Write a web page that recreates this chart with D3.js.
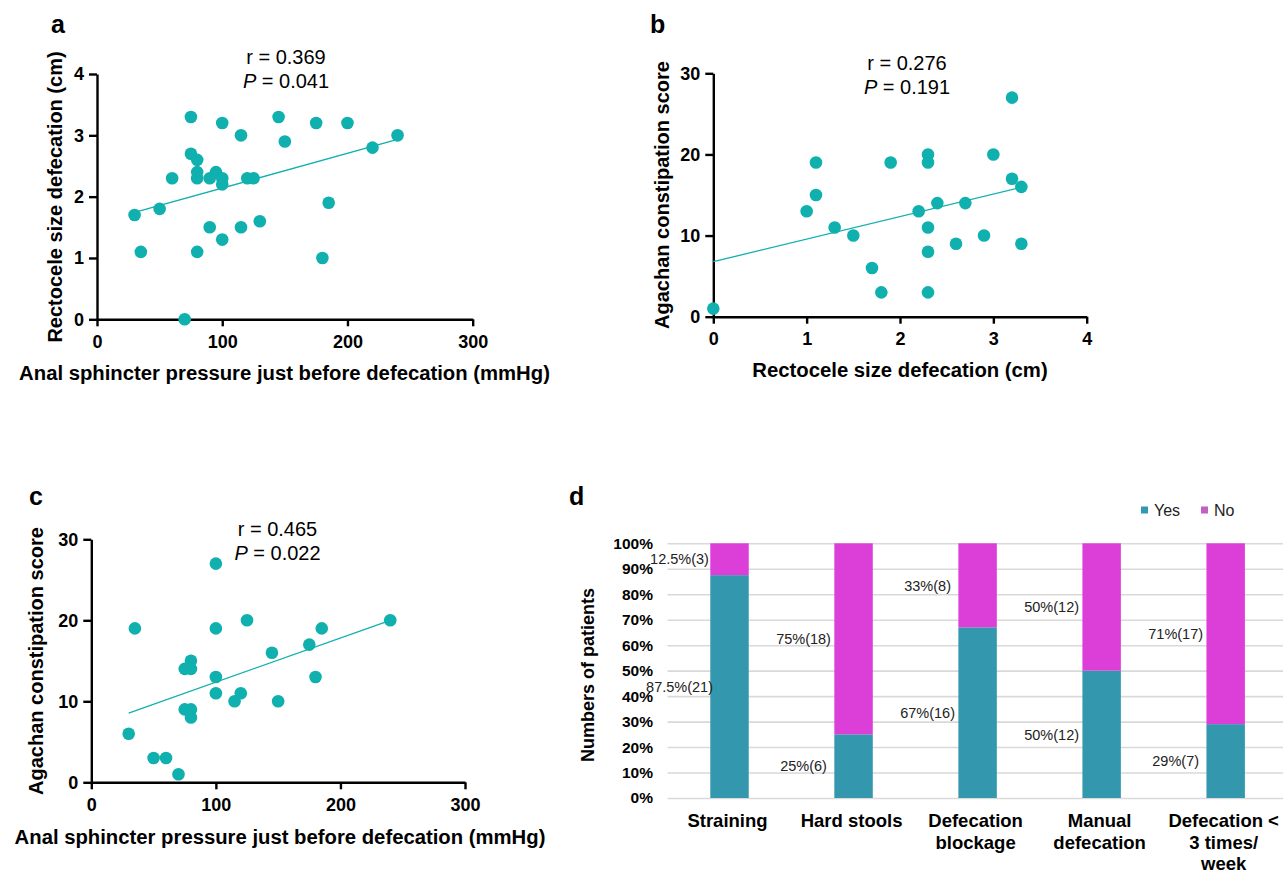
<!DOCTYPE html>
<html>
<head>
<meta charset="utf-8">
<script src="https://cdn.jsdelivr.net/npm/d3@7"></script>
<style>
  body { margin: 0; background: #fff; }
  svg { display: block; font-family: "Liberation Sans", Arial, sans-serif; }
</style>
</head>
<body>
<div class="canvas"></div>
<script>
// panel a: anal sphincter pressure (mmHg) vs rectocele size (cm)
const aPressure = [75, 100, 145, 175, 200, 115, 150, 240, 220, 75, 80, 80, 80, 60, 90, 95,
    100, 100, 120, 125, 50, 30, 185, 130, 90, 115, 100, 35, 80, 180, 70];
const aRectocele = [3.3, 3.2, 3.3, 3.2, 3.2, 3.0, 2.9, 3.0, 2.8, 2.7, 2.6, 2.4, 2.3, 2.3, 2.3, 2.4,
    2.3, 2.2, 2.3, 2.3, 1.8, 1.7, 1.9, 1.6, 1.5, 1.5, 1.3, 1.1, 1.1, 1.0, 0];
const aFit = [1.574, 0.00566];   // intercept, slope
const aStats = ['0.369', '0.041'];

// panel b: rectocele size (cm) vs Agachan score
const bRectocele = [3.2, 1.1, 1.9, 2.3, 2.3, 3.0, 3.2, 3.3, 1.1, 1.0, 2.2, 2.4, 2.7, 1.3, 1.5, 2.3,
    2.9, 2.6, 3.3, 2.3, 1.7, 1.8, 2.3, 0];
const bScore = [27, 19, 19, 20, 19, 20, 17, 16, 15, 13, 13, 14, 14, 11, 10, 11,
    10, 9, 9, 8, 6, 3, 3, 1];
const bFit = [6.78, 2.78];
const bStats = ['0.276', '0.191'];

// panel c: anal sphincter pressure (mmHg) vs Agachan score
const cPressure = [100, 35, 100, 125, 185, 240, 175, 145, 80, 75, 80, 100, 180, 100, 120, 115,
    150, 75, 80, 80, 30, 50, 60, 70];
const cScore = [27, 19, 19, 20, 19, 20, 17, 16, 15, 14, 14, 13, 13, 11, 11, 10,
    10, 9, 9, 8, 6, 3, 3, 1];
const cFit = [6.9, 0.0546];
const cStats = ['0.465', '0.022'];

// panel d: symptoms
const symptoms = ['Straining', 'Hard stools', 'Defecation blockage', 'Manual defecation', 'Defecation < 3 times/ week'];
const symptomLines = [['Straining'], ['Hard stools'], ['Defecation', 'blockage'], ['Manual', 'defecation'], ['Defecation <', '3 times/', 'week']];
const yesPct = [87.5, 25, 67, 50, 29];
const noPct = [12.5, 75, 33, 50, 71];
const yesN = [21, 6, 16, 12, 7];
const noN = [3, 18, 8, 12, 17];
const pctTicks = [0, 10, 20, 30, 40, 50, 60, 70, 80, 90, 100];

const dotColor = '#0fb0ae';
const yesColor = '#3398ad';
const noColor = '#dc3fd8';

const svg = d3.select('.canvas')
    .append('svg')
    .attr('width', 1283)
    .attr('height', 873);

function scatter(o) {
    const x = d3.scaleLinear().domain(o.xDomain).range(o.xRange);
    const y = d3.scaleLinear().domain(o.yDomain).range(o.yRange);
    const g = svg.append('g');

    const xAxis = d3.axisBottom(x).tickValues(o.xTicks).tickFormat(d3.format('d'))
        .tickSize(7).tickSizeOuter(0).tickPadding(9);
    const yAxis = d3.axisLeft(y).tickValues(o.yTicks).tickFormat(d3.format('d'))
        .tickSize(8).tickSizeOuter(0).tickPadding(5);

    const xg = g.append('g').attr('transform', `translate(0,${o.yRange[0]})`).call(xAxis);
    const yg = g.append('g').attr('transform', `translate(${o.xRange[0]},0)`).call(yAxis);
    [xg, yg].forEach(ax => {
        ax.selectAll('path, line').attr('stroke', '#000').attr('stroke-width', 2.4);
        ax.selectAll('text').attr('fill', '#000').style('font-size', '18px').style('font-weight', 'bold');
    });

    // fitted line over the data range
    const ext = d3.extent(o.xs);
    g.append('line')
        .attr('x1', x(ext[0])).attr('y1', y(o.fit[0] + o.fit[1] * ext[0]))
        .attr('x2', x(ext[1])).attr('y2', y(o.fit[0] + o.fit[1] * ext[1]))
        .attr('stroke', dotColor).attr('stroke-width', 1.3);

    g.selectAll('circle')
        .data(o.xs.map((v, i) => [v, o.ys[i]]))
        .enter()
        .append('circle')
        .attr('cx', d => x(d[0]))
        .attr('cy', d => y(d[1]))
        .attr('r', 6.3)
        .attr('fill', dotColor);

    const ann = g.append('text').attr('text-anchor', 'middle').style('font-size', '20px');
    ann.append('tspan').attr('x', o.ann[0]).attr('y', o.ann[1]).text('r = ' + o.stats[0]);
    const p = ann.append('tspan').attr('x', o.ann[0]).attr('y', o.ann[1] + 23.5);
    p.append('tspan').style('font-style', 'italic').text('P');
    p.append('tspan').text(' = ' + o.stats[1]);

    g.append('text')
        .attr('x', o.xTitle[0]).attr('y', o.xTitle[1])
        .attr('text-anchor', 'middle')
        .style('font-size', '20.3px').style('font-weight', 'bold')
        .text(o.xLabel);
    g.append('text')
        .attr('transform', `translate(${o.yTitle[0]},${o.yTitle[1]}) rotate(-90)`)
        .attr('text-anchor', 'middle')
        .style('font-size', '20px').style('font-weight', 'bold')
        .text(o.yLabel);
    g.append('text')
        .attr('x', o.letter[0]).attr('y', o.letter[1])
        .style('font-size', '25px').style('font-weight', 'bold')
        .text(o.letter[2]);
}

scatter({
    xs: aPressure, ys: aRectocele, fit: aFit, stats: aStats,
    xDomain: [0, 300], yDomain: [0, 4], xRange: [97, 472.7], yRange: [319.3, 74],
    xTicks: [0, 100, 200, 300], yTicks: [0, 1, 2, 3, 4],
    ann: [286, 64],
    xLabel: 'Anal sphincter pressure just before defecation (mmHg)', xTitle: [284.5, 380],
    yLabel: 'Rectocele size defecation (cm)', yTitle: [62, 197],
    letter: [51, 33, 'a']
});

scatter({
    xs: bRectocele, ys: bScore, fit: bFit, stats: bStats,
    xDomain: [0, 4], yDomain: [0, 30], xRange: [713.3, 1086.7], yRange: [316.7, 73.3],
    xTicks: [0, 1, 2, 3, 4], yTicks: [0, 10, 20, 30],
    ann: [907, 70],
    xLabel: 'Rectocele size defecation (cm)', xTitle: [900, 377],
    yLabel: 'Agachan constipation score', yTitle: [669, 195],
    letter: [650, 33, 'b']
});

scatter({
    xs: cPressure, ys: cScore, fit: cFit, stats: cStats,
    xDomain: [0, 300], yDomain: [0, 30], xRange: [91.3, 465], yRange: [782.3, 539.3],
    xTicks: [0, 100, 200, 300], yTicks: [0, 10, 20, 30],
    ann: [277.5, 536],
    xLabel: 'Anal sphincter pressure just before defecation (mmHg)', xTitle: [280, 844],
    yLabel: 'Agachan constipation score', yTitle: [43, 661],
    letter: [29, 505, 'c']
});

// ---- panel d: stacked percent bars ----
(() => {
    const x = d3.scaleBand()
        .domain(symptoms)
        .range([667.5, 1287.7])
        .paddingInner(0.69)
        .paddingOuter(0.345);
    const y = d3.scaleLinear().domain([0, 100]).range([798, 543.3]);
    const g = svg.append('g');

    const yAxis = d3.axisLeft(y)
        .tickValues(pctTicks)
        .tickSize(-620.2)
        .tickPadding(14.5)
        .tickFormat(d => d + '%');
    const yg = g.append('g').attr('transform', 'translate(667.5,0)').call(yAxis);
    yg.select('.domain').remove();
    yg.selectAll('line').attr('stroke', '#d9d9d9').attr('stroke-width', 1.6);
    yg.selectAll('text').attr('fill', '#000').style('font-size', '15.5px').style('font-weight', 'bold');

    const rows = symptoms.map((s, i) => ({ name: s, yes: yesPct[i], no: noPct[i], yn: yesN[i], nn: noN[i] }));
    const stacked = d3.stack().keys(['yes', 'no'])(rows);
    const colors = { yes: yesColor, no: noColor };

    stacked.forEach(layer => {
        g.append('g').selectAll('rect')
            .data(layer)
            .enter()
            .append('rect')
            .attr('x', d => x(d.data.name))
            .attr('width', x.bandwidth())
            .attr('y', d => y(d[1]))
            .attr('height', d => y(d[0]) - y(d[1]))
            .attr('fill', colors[layer.key]);

        g.append('g').selectAll('text')
            .data(layer)
            .enter()
            .append('text')
            .attr('x', d => x(d.data.name) + x.bandwidth() / 2 - 50)
            .attr('y', d => y((d[0] + d[1]) / 2))
            .attr('dy', '0.36em')
            .attr('text-anchor', 'middle')
            .style('font-size', '14.5px')
            .attr('fill', '#222')
            .text(d => d.data[layer.key] + '%(' + (layer.key === 'yes' ? d.data.yn : d.data.nn) + ')');
    });

    // category labels
    const xl = g.append('g').selectAll('text')
        .data(symptoms)
        .enter()
        .append('text')
        .attr('text-anchor', 'middle')
        .style('font-size', '18.5px')
        .style('font-weight', 'bold');
    xl.each(function (d, i) {
        symptomLines[i].forEach((line, k) => {
            d3.select(this).append('tspan')
                .attr('x', x(d) + x.bandwidth() / 2 - 2)
                .attr('y', 827 + k * 21.5)
                .text(line);
        });
    });

    g.append('text')
        .attr('transform', 'translate(594,675) rotate(-90)')
        .attr('text-anchor', 'middle')
        .style('font-size', '18px').style('font-weight', 'bold')
        .text('Numbers of patients');

    // legend
    const legendKeys = ['Yes', 'No'];
    const legendColors = ['#3399ae', '#c060c4'];
    const lg = g.append('g').selectAll('g')
        .data(legendKeys)
        .enter()
        .append('g')
        .attr('transform', (d, i) => `translate(${1141 + i * 60},0)`);
    lg.append('rect').attr('x', 0).attr('y', 506.5).attr('width', 7).attr('height', 7)
        .attr('fill', (d, i) => legendColors[i]);
    lg.append('text').attr('x', 13).attr('y', 516).style('font-size', '16px').attr('fill', '#222').text(d => d);

    g.append('text')
        .attr('x', 569).attr('y', 505)
        .style('font-size', '25px').style('font-weight', 'bold')
        .text('d');
})();
</script>
</body>
</html>
